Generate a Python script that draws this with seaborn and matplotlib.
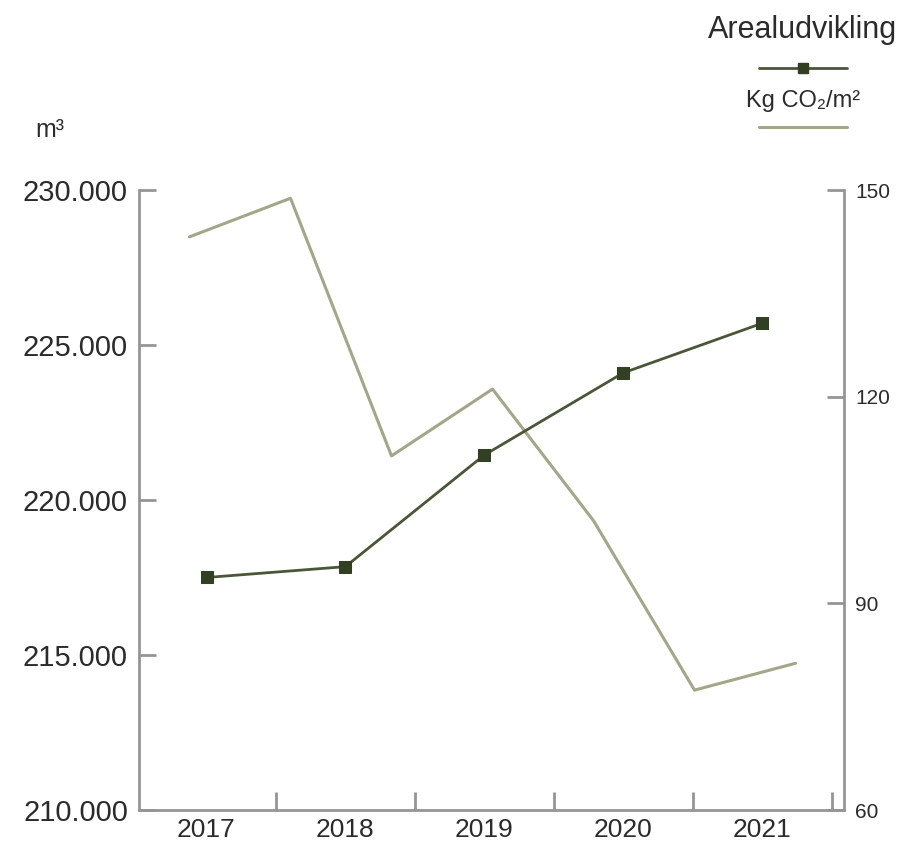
import numpy as np
import pandas as pd
import seaborn as sns
import matplotlib.pyplot as plt
from matplotlib.lines import Line2D
from matplotlib.ticker import FuncFormatter, FixedLocator

# Data
years = ['2017', '2018', '2019', '2020', '2021']
areal = [217500, 217850, 221450, 224100, 225700]  # m3
co2_periods = [1, 2, 3, 4, 5, 6, 7]
co2 = [143.2, 148.8, 111.4, 121.1, 102.0, 77.4, 81.3]  # Kg CO2/m2

areal_df = pd.DataFrame({'pos': np.arange(len(years)), 'areal': areal})
co2_df = pd.DataFrame({'pos': np.arange(len(co2_periods)), 'co2': co2})

sns.set_theme(style='white')
plt.rcParams['font.family'] = ['Liberation Sans', 'DejaVu Sans']

dark = '#323f22'
mid = '#4a5638'
light = '#a3a688'
spine_col = '#959595'
text_col = '#2b2b2b'

fig = plt.figure(figsize=(9.07, 8.47), dpi=100)
rect = [139 / 907, 37 / 847, 705 / 907, 620 / 847]
ax = fig.add_axes(rect)
ax2 = fig.add_axes(rect, frameon=False)

# CO2 line (7 periods spread over the same width)
sns.lineplot(data=co2_df, x='pos', y='co2', ax=ax2, color=light, linewidth=2.2)
ax2.set_xlim(-0.5, 6.48)
ax2.set_ylim(60, 150)
ax2.set_xticks([])
ax2.yaxis.tick_right()
ax2.set_yticks([60, 90, 120, 150])
ax2.tick_params(axis='y', direction='in', length=12, width=2, color=spine_col,
                labelsize=15, labelcolor=text_col, pad=8,
                left=False, right=True, labelleft=False, labelright=True)
ax2.set_xlabel('')
ax2.set_ylabel('')

# Areal line with square markers
sns.lineplot(data=areal_df, x='pos', y='areal', ax=ax, color=mid, linewidth=2,
             marker='s', markersize=9, markerfacecolor=dark, markeredgecolor=dark, zorder=3)
ax.set_xlim(-0.486, 4.59)
ax.set_ylim(210000, 230000)
ax.set_yticks(np.arange(210000, 230001, 5000))
ax.yaxis.set_major_formatter(FuncFormatter(lambda v, p: f'{int(v):,}'.replace(',', '.')))
ax.set_xticks(range(len(years)))
ax.set_xticklabels(years)
ax.xaxis.set_minor_locator(FixedLocator(np.arange(0.5, len(years), 1.0)))
ax.tick_params(axis='x', which='major', length=0, labelsize=19, labelcolor=text_col, pad=6)
ax.tick_params(axis='x', which='minor', direction='in', length=13, width=2,
               color=spine_col, bottom=True)
ax.tick_params(axis='y', direction='in', length=12, width=2, color=spine_col,
               labelsize=21, labelcolor=text_col, pad=8, left=True)
ax.set_xlabel('')
ax.set_ylabel('')
for side in ['left', 'bottom', 'right']:
    ax.spines[side].set_color(spine_col)
    ax.spines[side].set_linewidth(2)
ax.spines['top'].set_visible(False)
ax.set_zorder(ax2.get_zorder() + 1)
ax.patch.set_visible(False)

fig.text(50 / 907, 1 - 130 / 847, 'm³', fontsize=18, ha='center', va='center', color=text_col)

# Legend: label above the line sample
h_areal = Line2D([], [], color=mid, linewidth=2, marker='s', markersize=7,
                 markerfacecolor=dark, markeredgecolor=dark)
h_co2 = Line2D([], [], color=light, linewidth=2.2)
leg1 = fig.legend([h_areal], [''], title='Arealudvikling', loc='center',
                  bbox_to_anchor=(803 / 907, 1 - 49 / 847), frameon=False,
                  handlelength=3.3, handletextpad=0, title_fontsize=22, fontsize=19)
leg2 = fig.legend([h_co2], [''], title='Kg CO₂/m²', loc='center',
                  bbox_to_anchor=(803 / 907, 1 - 116 / 847), frameon=False,
                  handlelength=3.3, handletextpad=0, title_fontsize=17, fontsize=19,
                  labelspacing=0.2)
for lg in (leg1, leg2):
    lg.get_title().set_color(text_col)

fig.savefig('out.png', dpi=100)
